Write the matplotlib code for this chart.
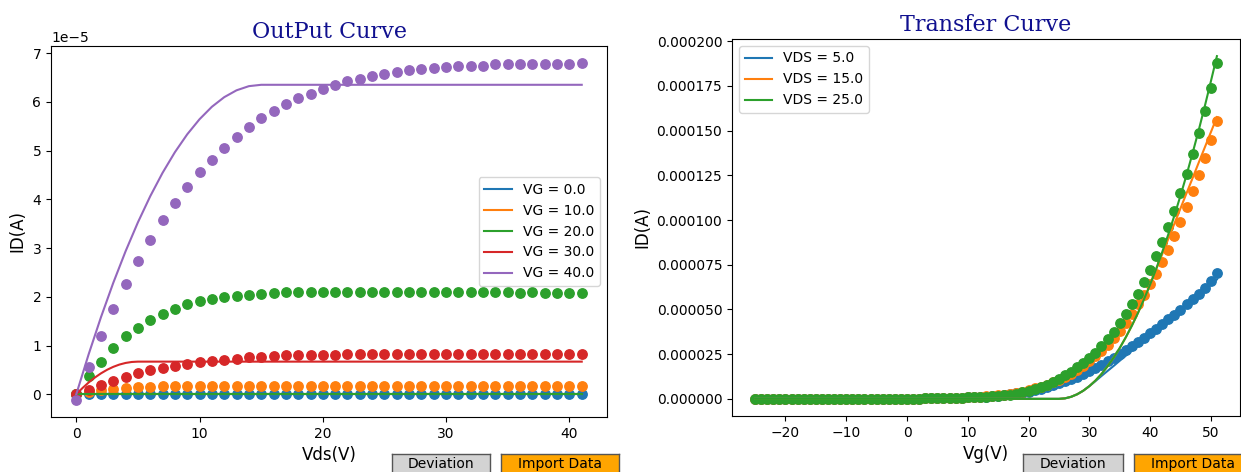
import matplotlib
matplotlib.use("Agg")
import matplotlib.pyplot as plt
import numpy as np

# ---------------- Output characteristics (ID vs VDS), values in 1e-5 A ----------------
vds = np.arange(0, 42)
vg_labels = ["VG = 0.0", "VG = 10.0", "VG = 20.0", "VG = 30.0", "VG = 40.0"]

id_vg0 = [0.0, 0.0, 0.0, 0.0, 0.0, 0.0, 0.0, 0.0, 0.0, 0.0, 0.0, 0.0, 0.0, 0.0,
          0.0, 0.0, 0.0, 0.0, 0.0, 0.0, 0.0, 0.0, 0.0, 0.0, 0.0, 0.0, 0.0, 0.0,
          0.0, 0.0, 0.0, 0.0, 0.0, 0.0, 0.0, 0.0, 0.0, 0.0, 0.0, 0.0, 0.0, 0.0]
id_vg10 = [0.0, 0.04, 0.08, 0.11, 0.13, 0.14, 0.155, 0.16, 0.165, 0.17, 0.17, 0.17,
           0.175, 0.17, 0.175, 0.175, 0.17, 0.175, 0.175, 0.175, 0.175, 0.175, 0.175,
           0.175, 0.175, 0.175, 0.175, 0.175, 0.175, 0.175, 0.175, 0.175, 0.175, 0.175,
           0.175, 0.175, 0.175, 0.175, 0.175, 0.175, 0.175, 0.175]
id_vg20 = [0.0, 0.37, 0.67, 0.95, 1.19, 1.36, 1.52, 1.65, 1.74, 1.85, 1.91, 1.95,
           1.99, 2.02, 2.04, 2.06, 2.08, 2.09, 2.09, 2.10, 2.10, 2.10, 2.10, 2.09,
           2.10, 2.10, 2.09, 2.10, 2.10, 2.09, 2.10, 2.09, 2.09, 2.09, 2.09, 2.09,
           2.08, 2.09, 2.08, 2.08, 2.08, 2.08]
id_vg30 = [0.0, 0.09, 0.19, 0.28, 0.36, 0.43, 0.50, 0.54, 0.59, 0.62, 0.66, 0.69,
           0.71, 0.73, 0.76, 0.775, 0.795, 0.80, 0.815, 0.815, 0.815, 0.815, 0.835,
           0.835, 0.835, 0.835, 0.835, 0.835, 0.835, 0.835, 0.835, 0.835, 0.835,
           0.835, 0.835, 0.835, 0.835, 0.835, 0.835, 0.835, 0.835, 0.835]
id_vg40 = [-0.12, 0.55, 1.19, 1.74, 2.26, 2.73, 3.16, 3.57, 3.93, 4.25, 4.56, 4.81,
           5.06, 5.28, 5.48, 5.66, 5.81, 5.96, 6.07, 6.16, 6.27, 6.35, 6.42, 6.47,
           6.53, 6.57, 6.62, 6.66, 6.68, 6.70, 6.72, 6.74, 6.745, 6.745, 6.77, 6.77,
           6.77, 6.77, 6.78, 6.78, 6.78, 6.80]

# fitted model curves (1e-5 A)
vds_fit_off = [0, 41]
fit_off = [0.0, 0.0]
vds_fit_30 = [0, 0.5, 1, 1.5, 2, 2.5, 3, 3.5, 4, 4.5, 5, 41]
fit_vg30 = [0.0, 0.127, 0.241, 0.342, 0.429, 0.503, 0.563, 0.610, 0.643, 0.663, 0.67, 0.67]
vds_fit_40 = [0, 1, 2, 3, 4, 5, 6, 7, 8, 9, 10, 11, 12, 13, 14, 15, 41]
fit_vg40 = [0.0, 0.818, 1.580, 2.286, 2.935, 3.528, 4.064, 4.544, 4.967, 5.334,
            5.644, 5.899, 6.096, 6.237, 6.322, 6.35, 6.35]

# ---------------- Transfer characteristics (ID vs VG), values in 1e-6 A ----------------
vg = np.arange(-25, 52)
vds_labels = ["VDS = 5.0", "VDS = 15.0", "VDS = 25.0"]
off_region = [0.0] * 25  # VG = -25 ... -1

id_vds5 = off_region + [
    0.1, 0.15, 0.2, 0.26, 0.32, 0.38, 0.45, 0.52, 0.6, 0.7,
    0.8, 0.95, 1.1, 1.3, 1.55, 1.85, 2.2, 2.6, 3.05, 3.55,
    4.1, 4.8, 5.6, 6.5, 7.5, 8.6, 9.8, 11.1, 12.5, 14.0,
    15.6, 17.3, 19.1, 21.0, 23.0, 25.1, 27.3, 29.6, 31.9, 34.3,
    36.7, 39.2, 41.8, 44.4, 47.1, 49.9, 52.8, 55.8, 58.9, 62.0,
    66.2, 70.4]
id_vds15 = off_region + [
    0.1, 0.15, 0.2, 0.25, 0.3, 0.36, 0.42, 0.5, 0.58, 0.68,
    0.8, 0.95, 1.12, 1.33, 1.58, 1.9, 2.3, 2.8, 3.4, 4.1,
    4.9, 5.8, 6.8, 7.9, 9.2, 10.7, 12.3, 14.1, 16.1, 18.4,
    21.0, 23.8, 26.9, 30.3, 34.0, 38.2, 42.7, 47.6, 52.8, 58.3,
    64.0, 70.0, 76.3, 83.3, 91.0, 98.8, 107.3, 116.2, 125.0, 134.7,
    144.8, 155.5]
id_vds25 = off_region + [
    0.1, 0.15, 0.2, 0.25, 0.3, 0.35, 0.42, 0.5, 0.6, 0.7,
    0.8, 0.9, 1.05, 1.25, 1.45, 1.7, 2.0, 2.4, 3.0, 3.7,
    4.5, 5.4, 6.6, 7.8, 9.4, 11.2, 13.1, 15.3, 17.6, 20.0,
    22.8, 25.8, 29.5, 33.4, 37.6, 42.2, 47.3, 52.8, 58.8, 65.2,
    72.2, 79.8, 87.6, 96.3, 105.0, 114.9, 125.6, 136.8, 148.6, 160.9,
    173.6, 187.7]

# fitted model curves (1e-6 A), zero below threshold
fit_off_region = [0.0] * 51  # VG = -25 ... 25
fit_vds5 = fit_off_region + [
    0.28, 1.14, 2.56, 4.54, 7.10, 9.9, 12.8, 15.6, 18.4, 21.3,
    24.1, 26.9, 29.8, 32.6, 35.5, 38.3, 41.2, 44.0, 46.9, 49.7,
    52.5, 55.4, 58.2, 61.1, 63.9, 66.8]
fit_vds15 = fit_off_region + [
    0.28, 1.14, 2.56, 4.54, 7.10, 10.2, 13.9, 18.2, 23.0, 28.4,
    34.4, 40.9, 48.0, 55.7, 63.9, 72.4, 80.9, 89.5, 98.0, 106.5,
    115.0, 123.5, 132.1, 140.6, 149.1, 157.6]
fit_vds25 = fit_off_region + [
    0.28, 1.14, 2.56, 4.54, 7.10, 10.2, 13.9, 18.2, 23.0, 28.4,
    34.4, 40.9, 48.0, 55.7, 63.9, 72.7, 82.1, 92.0, 102.5, 113.6,
    125.2, 137.5, 150.2, 163.6, 177.5, 191.7]

colors = plt.rcParams["axes.prop_cycle"].by_key()["color"]
W, H = 1241, 472
DOT = 46

fig = plt.figure(figsize=(W / 100, H / 100), dpi=100)
ax1 = fig.add_axes([51 / W, 55 / H, 556 / W, 371 / H])
ax2 = fig.add_axes([732 / W, 56 / H, 508 / W, 377 / H])

title_kw = dict(fontsize=16, family="serif", color="#10108f")

# output curves
out_dots = [id_vg0, id_vg10, id_vg20, id_vg30, id_vg40]
out_fits = [(vds_fit_off, fit_off), (vds_fit_off, fit_off), (vds_fit_off, fit_off),
            (vds_fit_30, fit_vg30), (vds_fit_40, fit_vg40)]
for i, (dots, (fx, fy), lab) in enumerate(zip(out_dots, out_fits, vg_labels)):
    ax1.plot(fx, np.array(fy) * 1e-5, color=colors[i], label=lab)
    ax1.scatter(vds, np.array(dots) * 1e-5, color=colors[i], s=DOT)
ax1.set_title("OutPut Curve", **title_kw)
ax1.set_xlabel("Vds(V)", fontsize=12)
ax1.set_ylabel("ID(A)", fontsize=12)
ax1.legend(loc="center right", fontsize=10)

# transfer curves
tr_dots = [id_vds5, id_vds15, id_vds25]
tr_fits = [fit_vds5, fit_vds15, fit_vds25]
for i, (dots, fit, lab) in enumerate(zip(tr_dots, tr_fits, vds_labels)):
    ax2.plot(vg, np.array(fit) * 1e-6, color=colors[i], label=lab)
    ax2.scatter(vg, np.array(dots) * 1e-6, color=colors[i], s=DOT)
ax2.set_title("Transfer Curve", **title_kw)
ax2.set_xlabel("Vg(V)", fontsize=12)
ax2.set_ylabel("ID(A)", fontsize=12)
ax2.ticklabel_format(axis="y", style="plain")
ax2.legend(loc="upper left", fontsize=10)


def add_button(x0, x1, label, face):
    bax = fig.add_axes([x0 / W, -2 / H, (x1 - x0) / W, 20 / H])
    bax.set_facecolor(face)
    bax.set_xticks([])
    bax.set_yticks([])
    for s in bax.spines.values():
        s.set_edgecolor("#555555")
        s.set_linewidth(1.0)
    bax.text(0.5, 0.5, label, ha="center", va="center", fontsize=10,
             transform=bax.transAxes)


add_button(392, 490, "Deviation", "#d3d3d3")
add_button(501, 619, "Import Data", "#ffa500")
add_button(1023, 1123, "Deviation", "#d3d3d3")
add_button(1134, 1252, "Import Data", "#ffa500")

fig.savefig("out.png", dpi=100)
